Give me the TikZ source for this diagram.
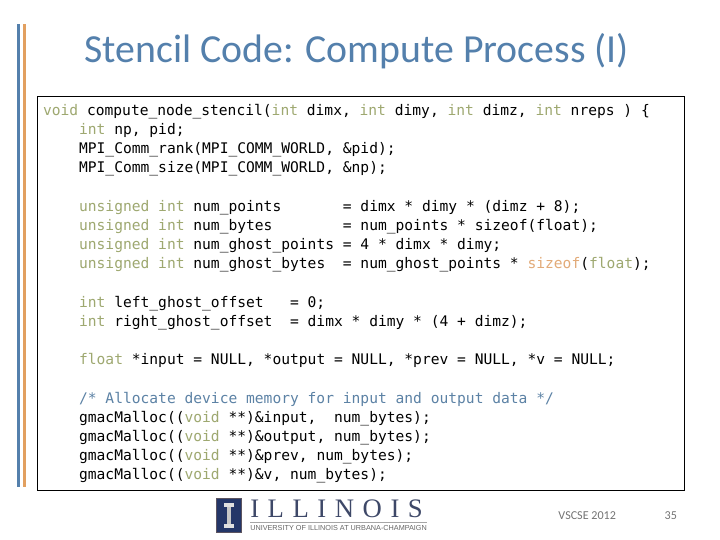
\documentclass[tikz,border=0pt]{standalone}
\usepackage{fontspec}
\setmainfont{Carlito}
\setmonofont{DejaVu Sans Mono}
\newfontfamily\logofont[LetterSpace=32]{Liberation Serif}
\newfontfamily\logosub{Liberation Sans}
\definecolor{slideblue}{RGB}{84,128,172}
\definecolor{slideorange}{RGB}{226,160,96}
\definecolor{kwolive}{RGB}{158,168,112}
\definecolor{kworange}{RGB}{226,170,120}
\definecolor{cmtblue}{RGB}{92,130,165}
\definecolor{logonavy}{RGB}{36,54,104}
\definecolor{logorim}{RGB}{92,84,96}
\definecolor{logotext}{RGB}{62,72,104}
\newcommand{\kw}[1]{\textcolor{kwolive}{#1}}
\tikzset{
  codeline/.style={anchor=base west, inner sep=0pt, font=\fontsize{10.39pt}{12pt}\ttfamily},
  footer/.style={anchor=base, inner sep=0pt, text=black!55, font=\fontsize{8.6pt}{10pt}\selectfont},
}

\begin{document}
\begin{tikzpicture}
\useasboundingbox (0,0) rectangle (18,13.5);

\fill[slideblue] (0.425,1.325) rectangle (0.5,12.9);
\fill[slideorange] (0.575,1.325) rectangle (0.65,12.9);

\node[anchor=base west, inner sep=0pt, text=slideblue, font=\fontsize{28.3pt}{30pt}\selectfont] (title) at (2.1,11.93) {Stencil Code: Compute Process (I)};

\node[draw=black, line width=0.7pt, fill=white, inner sep=0pt, minimum width=16.18cm, minimum height=9.85cm, anchor=north west] (codebox) at (0.92,11.09) {};

\node[codeline] (l1) at (1.07,10.615) {\kw{void} compute\_node\_stencil(\kw{int} dimx, \kw{int} dimy, \kw{int} dimz, \kw{int} nreps ) \{};
\node[codeline] (l2) at (1.97,10.145) {\kw{int} np, pid;};
\node[codeline] (l3) at (1.97,9.665) {MPI\_Comm\_rank(MPI\_COMM\_WORLD, \&pid);};
\node[codeline] (l4) at (1.97,9.195) {MPI\_Comm\_size(MPI\_COMM\_WORLD, \&np);};

\node[codeline] (l5) at (1.97,8.215) {\kw{unsigned} \kw{int} num\_points~~~~~~~= dimx * dimy * (dimz + 8);};
\node[codeline] (l6) at (1.97,7.745) {\kw{unsigned} \kw{int} num\_bytes~~~~~~~~= num\_points * sizeof(float);};
\node[codeline] (l7) at (1.97,7.265) {\kw{unsigned} \kw{int} num\_ghost\_points = 4 * dimx * dimy;};
\node[codeline] (l8) at (1.97,6.795) {\kw{unsigned} \kw{int} num\_ghost\_bytes~~= num\_ghost\_points * \textcolor{kworange}{sizeof}(\kw{float});};

\node[codeline] (l9) at (1.97,5.815) {\kw{int} left\_ghost\_offset~~~= 0;};
\node[codeline] (l10) at (1.97,5.345) {\kw{int} right\_ghost\_offset~~= dimx * dimy * (4 + dimz);};

\node[codeline] (l11) at (1.97,4.395) {\kw{float} *input = NULL, *output = NULL, *prev = NULL, *v = NULL;};

\node[codeline, text=cmtblue] (l12) at (1.97,3.415) {/* Allocate device memory for input and output data */};
\node[codeline] (l13) at (1.97,2.945) {gmacMalloc((\kw{void} **)\&input,~~num\_bytes);};
\node[codeline] (l14) at (1.97,2.465) {gmacMalloc((\kw{void} **)\&output, num\_bytes);};
\node[codeline] (l15) at (1.97,1.995) {gmacMalloc((\kw{void} **)\&prev, num\_bytes);};
\node[codeline] (l16) at (1.97,1.515) {gmacMalloc((\kw{void} **)\&v, num\_bytes);};

% logo
\draw[logorim, line width=0.9pt, fill=logonavy] (5.42,0.18) rectangle (6.03,1.03);
\fill[black!12] (5.6,0.825) rectangle (5.85,0.925);
\fill[black!22] (5.67,0.4) rectangle (5.78,0.825);
\fill[black!12] (5.6,0.3) rectangle (5.85,0.4);
\node[anchor=base west, inner sep=0pt, text=logotext, font=\logofont\fontsize{19pt}{20pt}\selectfont] (logoname) at (6.25,0.56) {ILLINOIS};
\draw[black!35, line width=0.4pt] (6.25,0.45) -- (10.68,0.45);
\node[anchor=base west, inner sep=0pt, text=black!60, font=\logosub\fontsize{5.17pt}{6pt}\selectfont] (logosub) at (6.25,0.24) {UNIVERSITY OF ILLINOIS AT URBANA-CHAMPAIGN};

\node[footer] (venue) at (14.68,0.52) {VSCSE 2012};
\node[footer] (page) at (16.77,0.52) {35};
\end{tikzpicture}
\end{document}
